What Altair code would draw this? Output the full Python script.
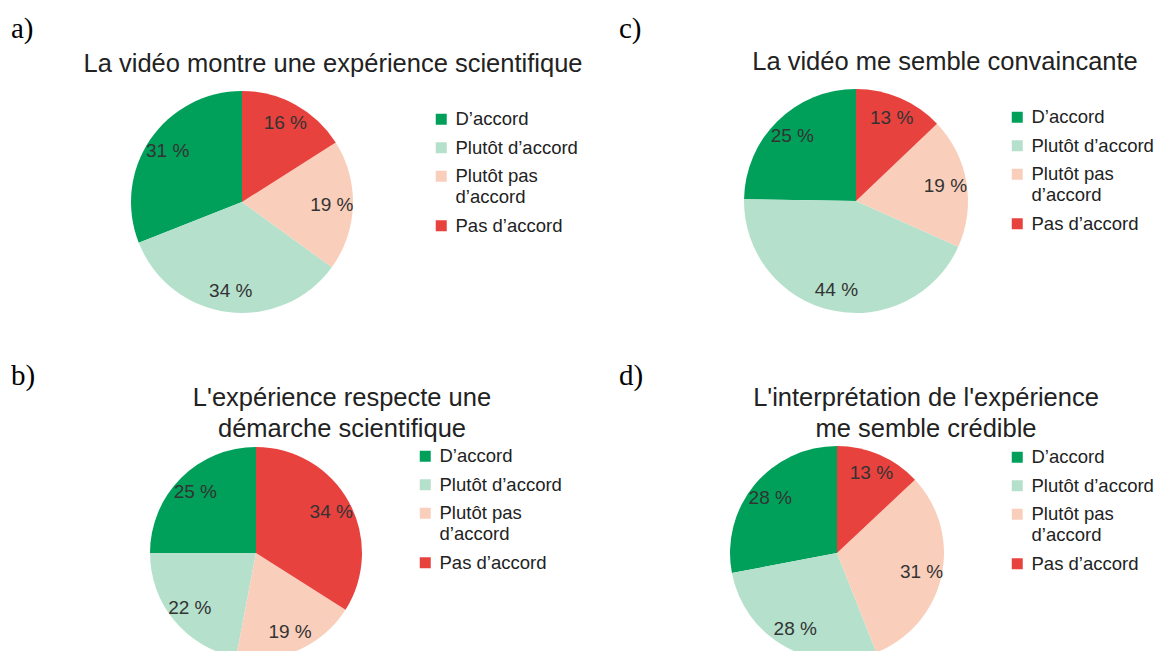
import altair as alt
import pandas as pd

# ---- data ----
categories = ["D’accord", "Plutôt d’accord", "Plutôt pas d’accord", "Pas d’accord"]
colors = ["#00a05a", "#b5e0cc", "#f9cfbc", "#e8423f"]
stack_order = [3, 2, 1, 0]  # clockwise from 12 o'clock: Pas d'accord first

panel_letters = ["a)", "b)", "c)", "d)"]
panel_titles = [
    "La vidéo montre une expérience scientifique",
    "L'expérience respecte une\ndémarche scientifique",
    "La vidéo me semble convaincante",
    "L'interprétation de l'expérience\nme semble crédible",
]
values_a = [31, 34, 19, 16]
values_b = [25, 22, 19, 34]
values_c = [25, 44, 19, 13]
values_d = [28, 28, 31, 13]
panel_values = [values_a, values_b, values_c, values_d]

# ---- layout (page pixel coordinates; page margin 8px) ----
OFF = 8
layout = {
    "a)": dict(cx=242, cy=202, r=111, lx=432, ly=110, tx=333, ty=64, px=11, py=29),
    "b)": dict(cx=256, cy=553, r=106, lx=416, ly=447, tx=342, ty=398, px=11, py=376),
    "c)": dict(cx=856, cy=201, r=112, lx=1008, ly=108, tx=945, ty=62, px=619, py=29),
    "d)": dict(cx=837, cy=553, r=107, lx=1008, ly=448, tx=926, ty=398, px=619, py=376),
}

FONT = "Liberation Sans"
layers = []
for letter, title, vals in zip(panel_letters, panel_titles, panel_values):
    L = layout[letter]
    cx, cy = L["cx"] - OFF, L["cy"] - OFF
    df = pd.DataFrame({
        "cat": categories,
        "value": vals,
        "ord": stack_order,
        "label": [f"{v} %" for v in vals],
    })
    base = alt.Chart(df).encode(
        theta=alt.Theta("value:Q", stack=True),
        order=alt.Order("ord:Q"),
    )
    arc = base.mark_arc(radius=L["r"], stroke=None).encode(
        x=alt.value(cx),
        y=alt.value(cy),
        color=alt.Color(
            "cat:N",
            scale=alt.Scale(domain=categories, range=colors),
            legend=alt.Legend(
                title=None,
                orient="none",
                legendX=L["lx"] - OFF,
                legendY=L["ly"] - OFF,
                symbolType="square",
                symbolSize=121,
                symbolStrokeWidth=0,
                labelFont=FONT,
                labelFontSize=18.5,
                labelColor="#222222",
                labelLimit=300,
                rowPadding=9.5,
                labelOffset=5,
                labelExpr="datum.label == 'Plutôt pas d’accord' ? ['Plutôt pas', 'd’accord'] : datum.label",
            ),
        ),
    )
    txt = base.mark_text(
        radius=L["r"] * 0.81, font=FONT, fontSize=19, color="#333333"
    ).encode(x=alt.value(cx), y=alt.value(cy), text="label:N")
    panel = alt.layer(arc, txt)
    layers.append(panel)

    ttl = alt.Chart(alt.Data(values=[{"t": title}])).mark_text(
        font=FONT, fontSize=25.5, color="#222222", lineBreak="\n",
        align="center", baseline="middle", lineHeight=31,
    ).encode(text="t:N", x=alt.value(L["tx"] - OFF), y=alt.value(L["ty"] - OFF))
    lab = alt.Chart(alt.Data(values=[{"t": letter}])).mark_text(
        font="Liberation Serif", fontSize=29, color="#000000",
        align="left", baseline="middle",
    ).encode(text="t:N", x=alt.value(L["px"] - OFF), y=alt.value(L["py"] - OFF))
    layers.extend([ttl, lab])

chart = alt.layer(*layers).resolve_scale(
    color="independent", theta="independent"
).properties(
    width=1149, height=643,
    autosize=alt.AutoSizeParams(type="none"),
    padding=0,
).configure_view(stroke=None)

chart.save("out.html", embed_options={"renderer": "svg", "actions": False})
